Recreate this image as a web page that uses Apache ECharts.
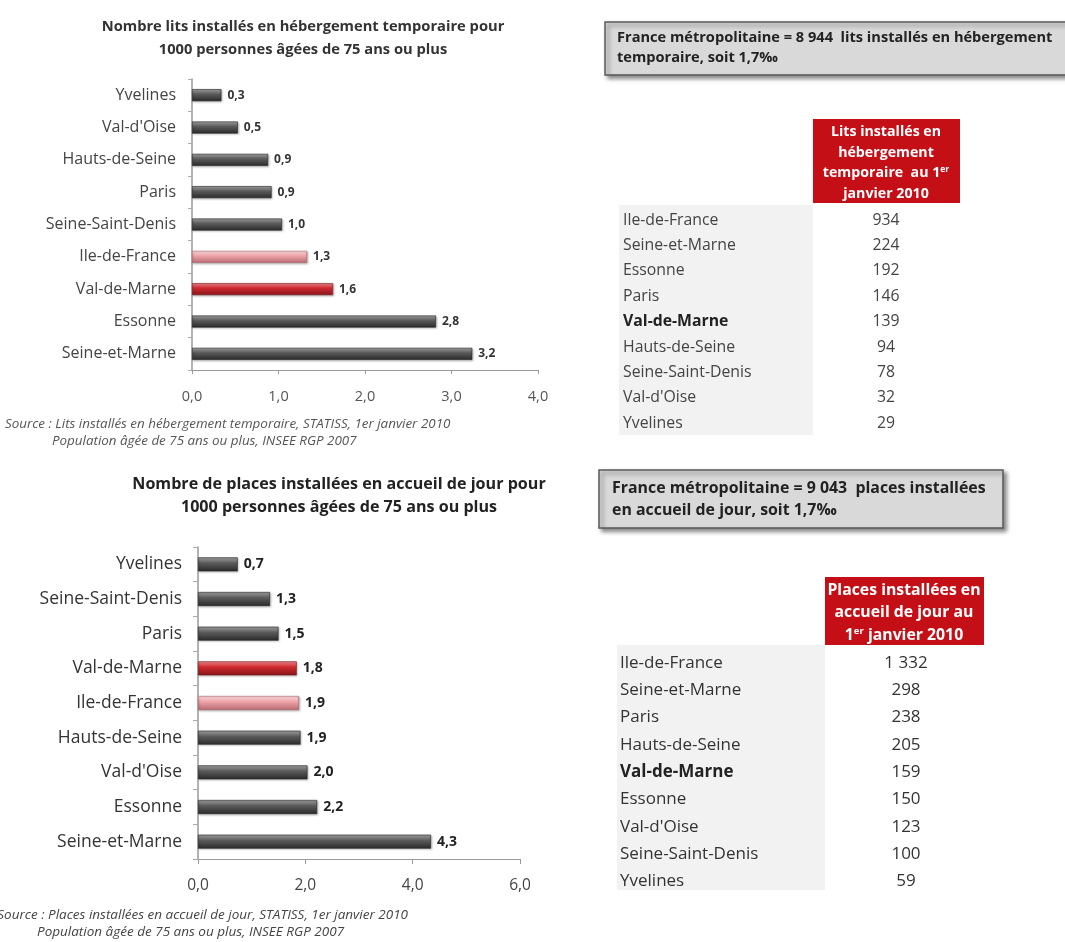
<!DOCTYPE html>
<html><head><meta charset="utf-8">
<script src="https://cdn.jsdelivr.net/npm/echarts@6/dist/echarts.min.js"></script>
<style>html,body{margin:0;padding:0;background:#fff}#c{width:1065px;height:942px}</style>
</head><body><div id="c"></div>
<script>
// ---- Data ----
var title1 = 'Nombre lits installés en hébergement temporaire pour\n1000 personnes âgées de 75 ans ou plus';
var cat1 = ['Yvelines', "Val-d'Oise", 'Hauts-de-Seine', 'Paris', 'Seine-Saint-Denis', 'Ile-de-France', 'Val-de-Marne', 'Essonne', 'Seine-et-Marne'];
var val1 = [0.34, 0.53, 0.88, 0.92, 1.04, 1.33, 1.63, 2.82, 3.24];
var ticks1 = {min: 0, max: 4, interval: 1};

var title2 = 'Nombre de places installées en accueil de jour pour\n1000 personnes âgées de 75 ans ou plus';
var cat2 = ['Yvelines', 'Seine-Saint-Denis', 'Paris', 'Val-de-Marne', 'Ile-de-France', 'Hauts-de-Seine', "Val-d'Oise", 'Essonne', 'Seine-et-Marne'];
var val2 = [0.74, 1.34, 1.50, 1.84, 1.88, 1.91, 2.04, 2.22, 4.34];
var ticks2 = {min: 0, max: 6, interval: 2};

var box1Lines = ['France métropolitaine = 8 944  lits installés en hébergement', 'temporaire, soit 1,7‰'];
var box2Lines = ['France métropolitaine = 9 043  places installées', 'en accueil de jour, soit 1,7‰'];

var tab1Header = ['Lits installés en', 'hébergement', '{n|temporaire  au 1}{s|er}', 'janvier 2010'];
var tab1Names = ['Ile-de-France', 'Seine-et-Marne', 'Essonne', 'Paris', 'Val-de-Marne', 'Hauts-de-Seine', 'Seine-Saint-Denis', "Val-d'Oise", 'Yvelines'];
var tab1Vals = [934, 224, 192, 146, 139, 94, 78, 32, 29];

var tab2Header = ['Places installées en', 'accueil de jour au', '{n|1}{s|er}{n| janvier 2010}'];
var tab2Names = ['Ile-de-France', 'Seine-et-Marne', 'Paris', 'Hauts-de-Seine', 'Val-de-Marne', 'Essonne', "Val-d'Oise", 'Seine-Saint-Denis', 'Yvelines'];
var tab2Vals = [1332, 298, 238, 205, 159, 150, 123, 100, 59];

var source1 = ['Source : Lits installés en hébergement temporaire, STATISS, 1er janvier 2010', 'Population âgée de 75 ans ou plus, INSEE RGP 2007'];
var source2 = ['Source : Places installées en accueil de jour, STATISS, 1er janvier 2010', 'Population âgée de 75 ans ou plus, INSEE RGP 2007'];

var highlightDark = 'Val-de-Marne', highlightLight = 'Ile-de-France';

// ---- Styling helpers ----
var FONT = '"Open Sans", Lato, sans-serif';
function grad(c1, c2, c3) {
  return new echarts.graphic.LinearGradient(0, 0, 0, 1, [
    {offset: 0, color: c1}, {offset: 0.4, color: c2}, {offset: 1, color: c3}]);
}
var gGray = grad('#a4a4a4', '#5c5c5c', '#2a2a2a');
var gRed = grad('#f28a8e', '#cf2a30', '#86151a');
var gPink = grad('#fde0e2', '#eea4aa', '#b86a71');
function barData(cats, vals) {
  return vals.map(function (v, i) {
    var c = cats[i] === highlightDark ? gRed : (cats[i] === highlightLight ? gPink : gGray);
    var b = cats[i] === highlightDark ? '#7a1217' : (cats[i] === highlightLight ? '#b06068' : '#222');
    return {value: v, itemStyle: {color: c, borderColor: b, borderWidth: 0.6}};
  });
}
function fmt(v) { return v.toFixed(1).replace('.', ','); }
function thousands(n) { return String(n).replace(/\B(?=(\d{3})+(?!\d))/g, ' '); }

var graphics = [];
function txt(x, y, s, font, fill, align, extra) {
  var st = {text: s, x: x, y: y, font: font, fill: fill || '#333', align: align || 'left',
    verticalAlign: 'middle', textAlign: align || 'left', textVerticalAlign: 'middle'};
  if (extra) for (var k in extra) st[k] = extra[k];
  graphics.push({type: 'text', silent: true, z: 10, style: st});
}
function rect(x, y, w, h, style, z) {
  graphics.push({type: 'rect', silent: true, z: z || 5, shape: {x: x, y: y, width: w, height: h}, style: style});
}

// Box 1
rect(605, 22, 470, 53, {fill: '#d9d9d9', stroke: '#5a5a5a', lineWidth: 1.5, shadowBlur: 4, shadowOffsetX: 3, shadowOffsetY: 3, shadowColor: 'rgba(0,0,0,0.45)'});
box1Lines.forEach(function (l, i) { txt(617, 38 + i * 20, l, 'bold 14.6px ' + FONT, '#222'); });
// Box 2
rect(599, 470, 404, 58, {fill: '#d9d9d9', stroke: '#5a5a5a', lineWidth: 1.5, shadowBlur: 4, shadowOffsetX: 3, shadowOffsetY: 3, shadowColor: 'rgba(0,0,0,0.45)'});
box2Lines.forEach(function (l, i) { txt(612, 488 + i * 22, l, 'bold 15.9px ' + FONT, '#222'); });

// Table 1
rect(813, 119, 147, 84, {fill: '#c50f16'});
rect(619, 205, 194, 230, {fill: '#f2f2f2'}, 4);
tab1Header.forEach(function (l, i) {
  txt(886, 132 + i * 20.5, l, 'bold 14.2px ' + FONT, '#fff', 'center', {rich: {
    n: {font: 'bold 14.2px ' + FONT, fill: '#fff'}, s: {font: 'bold 8.5px ' + FONT, fill: '#fff', verticalAlign: 'top', padding: [0, 0, 6, 0]}}});
});
tab1Names.forEach(function (n, i) {
  var y = 220 + i * 25.4;
  txt(623, y, n, (n === highlightDark ? 'bold ' : '') + '15.8px ' + FONT, n === highlightDark ? '#222' : '#444');
  txt(886, y, thousands(tab1Vals[i]), '15.8px ' + FONT, '#444', 'center');
});

// Table 2
rect(825, 577, 159, 68, {fill: '#c50f16'});
rect(617, 645, 208, 245, {fill: '#f2f2f2'}, 4);
tab2Header.forEach(function (l, i) {
  txt(904, 590 + i * 22.5, l, 'bold 15.8px ' + FONT, '#fff', 'center', {rich: {
    n: {font: 'bold 15.8px ' + FONT, fill: '#fff'}, s: {font: 'bold 9.5px ' + FONT, fill: '#fff', verticalAlign: 'top', padding: [0, 0, 7, 0]}}});
});
tab2Names.forEach(function (n, i) {
  var y = 663 + i * 27.3;
  txt(620, y, n, (n === highlightDark ? 'bold ' : '') + '17px ' + FONT, n === highlightDark ? '#222' : '#333');
  txt(906, y, thousands(tab2Vals[i]), '17px ' + FONT, '#333', 'center');
});

// Sources
txt(5, 424, source1[0], 'italic 13.4px ' + FONT, '#555');
txt(52, 441, source1[1], 'italic 13.4px ' + FONT, '#555');
txt(408, 915, source2[0], 'italic 13.5px ' + FONT, '#444', 'right');
txt(37, 932, source2[1], 'italic 13.5px ' + FONT, '#444');

var chart = echarts.init(document.getElementById('c'), null, {renderer: 'canvas'});
chart.setOption({
  backgroundColor: '#fff',
  animation: false,
  title: [
    {text: title1, left: 298, top: 10, textAlign: 'center',
      textStyle: {fontFamily: FONT, fontSize: 14.7, fontWeight: 'bold', color: '#333', lineHeight: 23, align: 'center'}},
    {text: title2, left: 334, top: 468, textAlign: 'center',
      textStyle: {fontFamily: FONT, fontSize: 16.1, fontWeight: 'bold', color: '#222', lineHeight: 23, align: 'center'}}
  ],
  grid: [
    {left: 192, top: 79, width: 346, height: 291, containLabel: false},
    {left: 198, top: 547, width: 322, height: 312, containLabel: false}
  ],
  xAxis: [
    {type: 'value', gridIndex: 0, min: ticks1.min, max: ticks1.max, interval: ticks1.interval,
      axisLine: {show: true, lineStyle: {color: '#9a9a9a'}}, axisTick: {show: true, length: 4, lineStyle: {color: '#9a9a9a'}},
      splitLine: {show: false},
      axisLabel: {formatter: fmt, fontFamily: FONT, fontSize: 14.5, color: '#555', margin: 19}},
    {type: 'value', gridIndex: 1, min: ticks2.min, max: ticks2.max, interval: ticks2.interval,
      axisLine: {show: true, lineStyle: {color: '#9a9a9a'}}, axisTick: {show: true, length: 5, lineStyle: {color: '#9a9a9a'}},
      splitLine: {show: false},
      axisLabel: {formatter: fmt, fontFamily: FONT, fontSize: 15.5, color: '#444', margin: 19}}
  ],
  yAxis: [
    {type: 'category', gridIndex: 0, data: cat1, inverse: true,
      axisLine: {show: true, lineStyle: {color: '#9a9a9a', width: 1.5}}, axisTick: {show: true, length: 4, lineStyle: {color: '#aaa'}},
      axisLabel: {fontFamily: FONT, fontSize: 16, color: '#444', margin: 16}},
    {type: 'category', gridIndex: 1, data: cat2, inverse: true,
      axisLine: {show: true, lineStyle: {color: '#9a9a9a', width: 1.5}}, axisTick: {show: true, length: 5, lineStyle: {color: '#aaa'}},
      axisLabel: {fontFamily: FONT, fontSize: 17.5, color: '#333', margin: 16}}
  ],
  series: [
    {type: 'bar', xAxisIndex: 0, yAxisIndex: 0, barWidth: 12, data: barData(cat1, val1),
      itemStyle: {shadowColor: 'rgba(0,0,0,0.25)', shadowBlur: 2, shadowOffsetX: 1, shadowOffsetY: 1},
      label: {show: true, position: 'right', distance: 6, formatter: function (p) { return fmt(p.value); },
        fontFamily: FONT, fontSize: 12, fontWeight: 'bold', color: '#333'}},
    {type: 'bar', xAxisIndex: 1, yAxisIndex: 1, barWidth: 14, data: barData(cat2, val2),
      itemStyle: {shadowColor: 'rgba(0,0,0,0.25)', shadowBlur: 2, shadowOffsetX: 1, shadowOffsetY: 1},
      label: {show: true, position: 'right', distance: 6, formatter: function (p) { return fmt(p.value); },
        fontFamily: FONT, fontSize: 14, fontWeight: 'bold', color: '#222'}}
  ],
  graphic: graphics
});
</script>
</body></html>
